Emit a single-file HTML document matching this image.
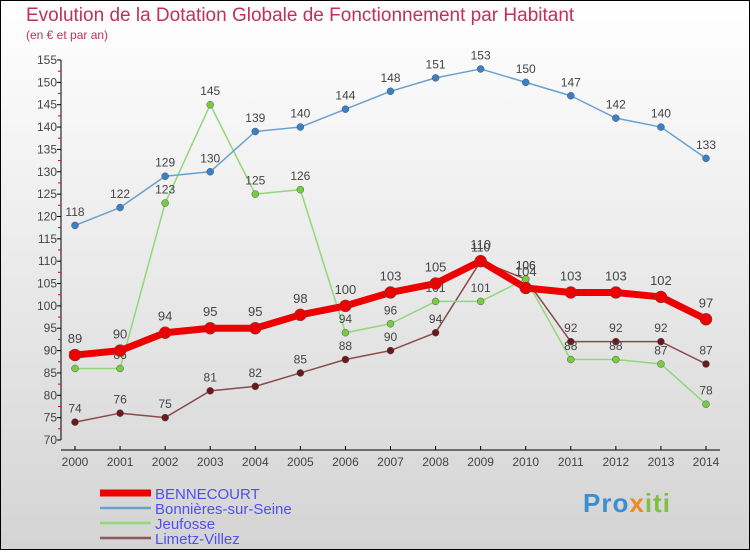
<!DOCTYPE html>
<html><head><meta charset="utf-8"><style>
html,body{margin:0;padding:0}
body{width:750px;height:550px;overflow:hidden;font-family:"Liberation Sans",sans-serif}
</style></head><body>
<svg id="chart" width="750" height="550" xmlns="http://www.w3.org/2000/svg">
<defs><linearGradient id="bg" x1="0" y1="0" x2="0" y2="1"><stop offset="0" stop-color="#ffffff"/><stop offset="1" stop-color="#d4d4d4"/></linearGradient></defs>
<rect x="0.5" y="0.5" width="749" height="549" fill="url(#bg)" stroke="#000"/>
<text x="26" y="21" font-size="19" fill="#c0305a">Evolution de la Dotation Globale de Fonctionnement par Habitant</text>
<text x="26" y="39" font-size="12" fill="#c0305a">(en € et par an)</text>
<g id="axes"></g><g id="series"></g><g id="legend"></g>
</svg>
<script>
const years=[2000,2001,2002,2003,2004,2005,2006,2007,2008,2009,2010,2011,2012,2013,2014];
const yTicks=[70,75,80,85,90,95,100,105,110,115,120,125,130,135,140,145,150,155];
const bennecourt=[89,90,94,95,95,98,100,103,105,110,104,103,103,102,97];
const bonnieres=[118,122,129,130,139,140,144,148,151,153,150,147,142,140,133];
const jeufosse=[86,86,123,145,125,126,94,96,101,101,106,88,88,87,78];
const limetz=[74,76,75,81,82,85,88,90,94,110,106,92,92,92,87];
const NS="http://www.w3.org/2000/svg";
const xS=i=>75+i*(706-75)/14;
const yS=v=>440-(v-70)*(380/85);
function mk(p,t,a){const e=document.createElementNS(NS,t);for(const k in a)e.setAttribute(k,a[k]);p.appendChild(e);return e;}
const ax=document.getElementById('axes');
const yl=mk(ax,'line',{x1:61,y1:yS(155),x2:61,y2:440,stroke:'#000'});


const xl=mk(ax,'line',{x1:61,y1:450,x2:720,y2:450,stroke:'#000'});


yTicks.forEach(v=>{
 mk(ax,'line',{x1:57,x2:61,y1:yS(v),y2:yS(v),stroke:'#000'});
 if(v<155) mk(ax,'line',{x1:58,x2:61,y1:yS(v+2.5),y2:yS(v+2.5),stroke:'#e00'});
 const t=mk(ax,'text',{x:57,y:yS(v)+4,'text-anchor':'end','font-size':12,fill:'#444'});
 t.textContent=v;
 
 
});
years.forEach((y,i)=>{
 mk(ax,'line',{x1:xS(i),x2:xS(i),y1:446,y2:450,stroke:'#000'});
 const t=mk(ax,'text',{x:xS(i),y:466,'text-anchor':'middle','font-size':12,fill:'#444'});
 t.textContent=y;
 
 
});
const S=document.getElementById('series');
function series(data,name,color,dot,w,r,fs){
 const g=mk(S,'g',{});
 
 
 mk(g,'polyline',{points:data.map((v,i)=>xS(i)+','+yS(v)).join(' '),fill:'none',stroke:color,'stroke-width':w,'stroke-linejoin':'round'});
 data.forEach((v,i)=>{
  const c=mk(g,'circle',{cx:xS(i),cy:yS(v),r:r,fill:dot,stroke:'#555','stroke-width':0.5});
  
  
  const t=mk(g,'text',{x:xS(i),y:yS(v)-(r+6),'text-anchor':'middle','font-size':fs,fill:'#444'});
  t.textContent=v;
  
  
 });
}
series(limetz,'limetz-villez-series','#8a4a4a','#6a1a1a',1.5,3.5,12);
series(jeufosse,'jeufosse-series','#90d878','#78cc40',1.5,3.5,12);
series(bonnieres,'bonnieres-series','#6aa0d0','#3a80c8',1.5,3.5,12);
series(bennecourt,'bennecourt-series','#ee0000','#ee0000',7,6,13);
const L=document.getElementById('legend');
[['BENNECOURT','#ee0000',7],['Bonnières-sur-Seine','#6aa0d0',2.5],['Jeufosse','#90d878',2.5],['Limetz-Villez','#8a5a5a',2.5]].forEach((d,i)=>{
 const g=mk(L,'g',{});
 
 
 const y=493+i*15;
 mk(g,'line',{x1:100,x2:151,y1:y,y2:y,stroke:d[1],'stroke-width':d[2]});
 const t=mk(g,'text',{x:155,y:y+6,'font-size':15,fill:'#5050ee'});
 t.textContent=d[0];
});
</script>
<div style="position:absolute;left:583px;top:488px;font:bold 26px 'Liberation Sans',sans-serif;letter-spacing:1px"><span style="color:#3a8fd0">Pro</span><span style="color:#f08a20">x</span><span style="color:#80c040">iti</span></div>
</body></html>
